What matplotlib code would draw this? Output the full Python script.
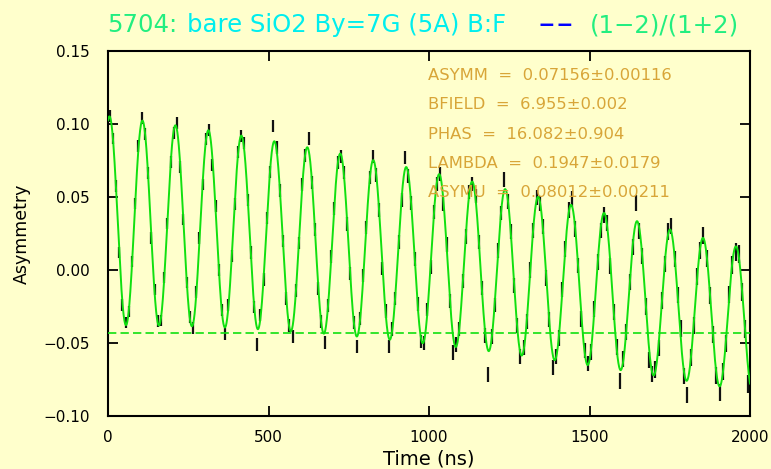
import numpy as np
import matplotlib
matplotlib.use("Agg")
import matplotlib.pyplot as plt

# ---- fit parameters shown on the chart ----
ASYMM, BFIELD, PHAS, LAMBDA, ASYMU = 0.07156, 6.955, 16.082, 0.1947, 0.08012
BASELINE = -0.0432          # dashed line
GAMMA_MU_ATOM = 1.3996      # MHz/G
GAMMA_MUON = 0.013554       # MHz/G

# ---- data: 10 ns bins, asymmetry values in units of 1e-4 ----
bin_width = 10
asym_e4 = [
    1055, 900, 575, 120, -240, -360, -285, 60, 455, 850,
    1040, 930, 665, 220, -135, -350, -345, -50, 320, 740,
    940, 1005, 705, 345, -85, -320, -395, -150, 220, 585,
    900, 960, 720, 440, 0, -275, -440, -240, 95, 455,
    810, 920, 870, 480, 120, -255, -510, -310, -65, 355,
    670, 985, 840, 545, 200, -195, -380, -455, -140, 185,
    585, 785, 900, 600, 280, -125, -355, -495, -245, 90,
    420, 735, 780, 670, 315, -25, -360, -525, -330, -40,
    290, 635, 776, 650, 410, 10, -280, -525, -405, -195,
    190, 480, 770, 645, 460, 75, -235, -490, -500, -270,
    20, 395, 590, 660, 455, 175, -215, -565, -510, -405,
    -75, 230, 535, 590, 505, 190, -125, -450, -717, -455,
    -240, 135, 390, 620, 470, 265, -105, -380, -590, -530,
    -355, 0, 270, 495, 455, 300, -55, -340, -670, -590,
    -465, -135, 145, 410, 486, 280, 30, -335, -550, -640,
    -560, -265, 55, 270, 376, 320, 30, -290, -530, -760,
    -610, -425, -80, 160, 460, 270, 95, -250, -616, -715,
    -680, -535, -210, 40, 265, 300, 75, -170, -400, -725,
    -856, -600, -380, -45, 135, 235, 80, -175, -440, -720,
    -838, -695, -505, -170, 35, 123, 110, -150, -405, -780,
]
# error bar half-lengths, one value per 100 ns (10 bins)
err_per_100ns = [0.00384, 0.00393, 0.00402, 0.00412, 0.00421, 0.00431, 0.00441,
                 0.00451, 0.00461, 0.00472, 0.00483, 0.00494, 0.00505, 0.00517,
                 0.00529, 0.00541, 0.00553, 0.00566, 0.00579, 0.00592]

x_ticks = [0, 500, 1000, 1500, 2000]
y_ticks = [-0.10, -0.05, 0.00, 0.05, 0.10, 0.15]
y_ticklabels = ['−0.10', '−0.05', '0.00', '0.05', '0.10', '0.15']

params = ['ASYMM  =  0.07156±0.00116', 'BFIELD  =  6.955±0.002', 'PHAS  =  16.082±0.904',
          'LAMBDA  =  0.1947±0.0179', 'ASYMU  =  0.08012±0.00211']


def fit(t_ns):
    t = np.asarray(t_ns) / 1000.0
    ph = np.deg2rad(PHAS)
    return (ASYMM * np.exp(-LAMBDA * t) * np.cos(2 * np.pi * GAMMA_MU_ATOM * BFIELD * t - ph)
            + ASYMU * np.cos(2 * np.pi * GAMMA_MUON * BFIELD * t + ph) + BASELINE)


y_data = np.array(asym_e4) * 1e-4
t_data = bin_width / 2 + bin_width * np.arange(len(y_data))
err = np.repeat(err_per_100ns, 10)[:len(y_data)]

bg = '#ffffcc'
W, H = 771, 469
fig = plt.figure(figsize=(W / 100, H / 100), dpi=100, facecolor=bg)
ax = fig.add_axes([108 / W, 1 - 416 / H, 642 / W, 365 / H], facecolor=bg)
tt = np.linspace(0, 2000, 4000)
ax.errorbar(t_data, y_data, yerr=err, fmt='none', ecolor='#111111', elinewidth=1.6, zorder=2)
ax.plot(tt, fit(tt), color='#10e010', lw=1.4, zorder=3)
ax.axhline(BASELINE, color='#10e010', lw=1.2, dashes=(5, 2.5), zorder=3)
ax.set_xlim(0, 2000)
ax.set_ylim(-0.10, 0.15)
ax.set_xticks(x_ticks)
ax.set_yticks(y_ticks)
ax.set_yticklabels(y_ticklabels)
ax.tick_params(direction='in', length=7, width=1.3, top=True, right=True, labelsize=11)
ax.tick_params(axis='y', pad=13)
ax.tick_params(axis='x', pad=10)
for s in ax.spines.values():
    s.set_linewidth(1.5)
ax.set_xlabel('Time (ns)', fontsize=14, labelpad=3)
ax.set_ylabel('Asymmetry', fontsize=12.5, labelpad=9)

pc = '#d8a538'
baselines = [80.4, 109.4, 138.8, 167.8, 197.1]
for s, yb in zip(params, baselines):
    fig.text(428 / W, 1 - yb / H, s, color=pc, fontsize=11.8, ha='left', va='baseline')

pieces = [('5704:', '#22ee80', 107, 56), ('bare SiO2 By=7G (5A) B:F', '#00eeee', 187, 334),
          ('(1−2)/(1+2)', '#22ee80', 590, 149)]
fig.canvas.draw()
r = fig.canvas.get_renderer()
scale = []
for s, c, x0, wt in pieces:
    tx = fig.text(0, 0, s, fontsize=18)
    w = tx.get_window_extent(r).width
    tx.remove()
    scale.append(wt / w)
tsize = 18 * min(scale[1], scale[2])
for s, c, x0, wt in pieces:
    fig.text(x0 / W, 1 - 22.5 / H, s, color=c, fontsize=tsize, ha='left', va='center_baseline')
for xd in (538, 557):
    fig.text(xd / W, 1 - 22.5 / H, '–', color='#0000ff', fontsize=tsize * 1.3,
             ha='left', va='center_baseline')

fig.savefig('out.png', dpi=100, facecolor=bg)
